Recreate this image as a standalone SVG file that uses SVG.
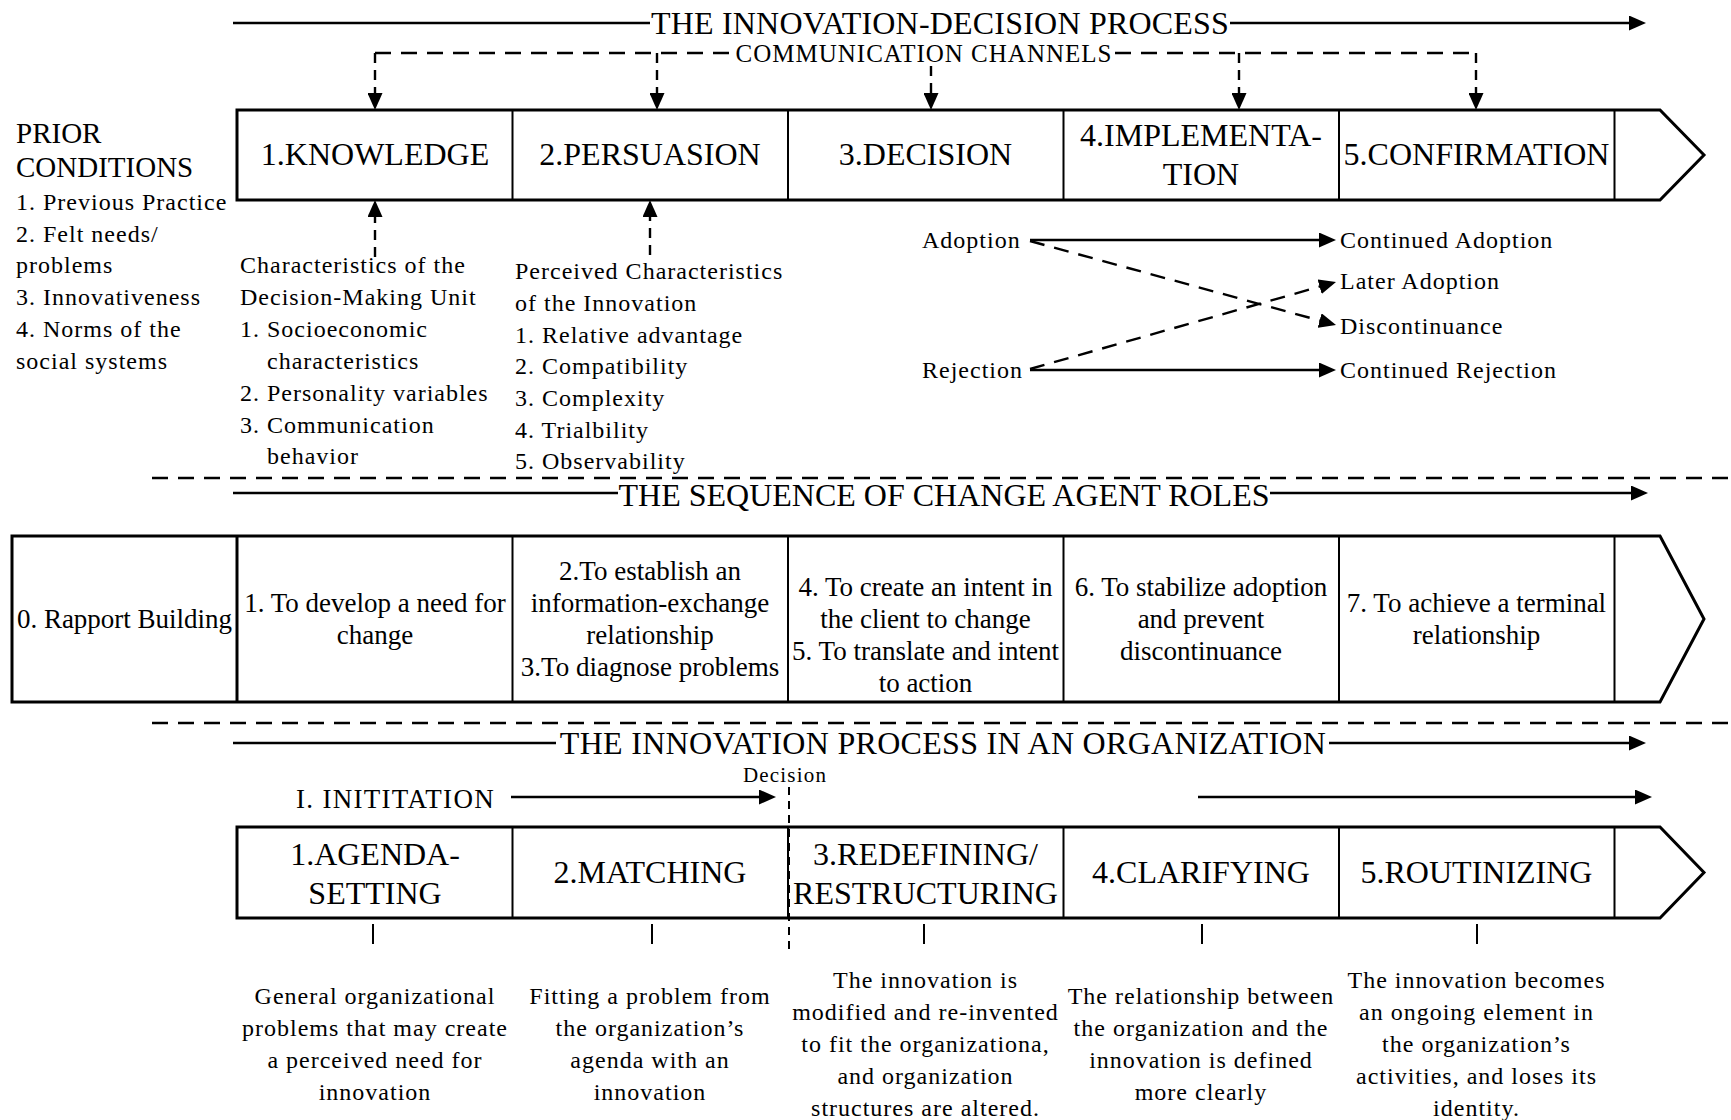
<svg xmlns="http://www.w3.org/2000/svg" width="1731" height="1120" viewBox="0 0 1731 1120">
<style>
text{font-family:"Liberation Serif","Times New Roman",serif;fill:#000}
.h{font-size:32px}
.b{font-size:24px;letter-spacing:1px}
.t{font-size:27px}
.m{text-anchor:middle}
.ln{stroke:#000;stroke-width:2.6;fill:none}
.ds{stroke:#000;stroke-width:2.4;fill:none;stroke-dasharray:16 10}
.dv{stroke:#000;stroke-width:2.4;fill:none;stroke-dasharray:10 7}
.box{fill:none;stroke:#000;stroke-width:3}
.div{stroke:#000;stroke-width:2}
</style>
<defs>
<marker id="ah" viewBox="0 0 17 15" markerWidth="17" markerHeight="15" refX="9" refY="7.5" orient="auto" markerUnits="userSpaceOnUse"><path d="M0,0 L17,7.5 L0,15 z" fill="#000"/></marker>
</defs>
<rect width="1731" height="1120" fill="#fff"/>

<g id="connectors">
<line class="ln" x1="233" y1="23" x2="650" y2="23"/>
<line class="ln" x1="1230" y1="23" x2="1638" y2="23" marker-end="url(#ah)"/>
<path class="ds" d="M375,53 H733 M1115,53 H1476"/>
<line class="dv" x1="375" y1="53" x2="375" y2="102" marker-end="url(#ah)"/>
<line class="dv" x1="657" y1="53" x2="657" y2="102" marker-end="url(#ah)"/>
<line class="dv" x1="931" y1="66" x2="931" y2="102" marker-end="url(#ah)"/>
<line class="dv" x1="1239" y1="53" x2="1239" y2="102" marker-end="url(#ah)"/>
<line class="dv" x1="1476" y1="53" x2="1476" y2="102" marker-end="url(#ah)"/>
<line class="dv" x1="375" y1="257" x2="375" y2="208" marker-end="url(#ah)"/>
<line class="dv" x1="650" y1="255" x2="650" y2="208" marker-end="url(#ah)"/>
<line class="ln" x1="1030" y1="240" x2="1328" y2="240" marker-end="url(#ah)"/>
<line class="ln" x1="1030" y1="370" x2="1328" y2="370" marker-end="url(#ah)"/>
<line class="ds" style="stroke-dasharray:15 10" x1="1030" y1="241" x2="1328.3" y2="322.9" marker-end="url(#ah)"/>
<line class="ds" style="stroke-dasharray:15 10" x1="1030" y1="369" x2="1328.3" y2="284.2" marker-end="url(#ah)"/>
<line class="ds" x1="152" y1="478" x2="1731" y2="478"/>
<line class="ds" x1="152" y1="723" x2="1731" y2="723"/>
<line class="ln" x1="233" y1="493" x2="618" y2="493"/>
<line class="ln" x1="1270" y1="493" x2="1640" y2="493" marker-end="url(#ah)"/>
<line class="ln" x1="233" y1="743" x2="556" y2="743"/>
<line class="ln" x1="1329" y1="743" x2="1638" y2="743" marker-end="url(#ah)"/>
<line class="ln" x1="511" y1="797" x2="768" y2="797" marker-end="url(#ah)"/>
<line class="ln" x1="1198" y1="797" x2="1644" y2="797" marker-end="url(#ah)"/>
<line class="dv" style="stroke-width:2;stroke-dasharray:8 6" x1="789" y1="787" x2="789" y2="952"/>
<path class="ln" style="stroke-width:2" d="M373,924 V944 M652,924 V944 M924,924 V944 M1202,924 V944 M1477,924 V944"/>
</g>

<g id="titles">
<text class="h m" style="letter-spacing:0.2px" x="940" y="34">THE INNOVATION-DECISION PROCESS</text>
<text class="m" style="font-size:25px;letter-spacing:1px" x="924" y="62">COMMUNICATION CHANNELS</text>
<text class="h m" x="944" y="506">THE SEQUENCE OF CHANGE AGENT ROLES</text>
<text class="h m" style="letter-spacing:0.3px" x="943" y="754">THE INNOVATION PROCESS IN AN ORGANIZATION</text>
</g>

<g id="prior-conditions">
<text style="font-size:29px" x="16" y="143">PRIOR</text>
<text style="font-size:29px" x="16" y="177">CONDITIONS</text>
<text class="b" x="16" y="210">1. Previous Practice</text>
<text class="b" x="16" y="242">2. Felt needs/</text>
<text class="b" x="16" y="273">problems</text>
<text class="b" x="16" y="305">3. Innovativeness</text>
<text class="b" x="16" y="337">4. Norms of the</text>
<text class="b" x="16" y="369">social systems</text>
</g>

<g id="stage-row">
<path class="box" d="M237,110 H1660 L1704,155 L1660,200 H237 Z"/>
<path class="div" d="M512.5,110 V200 M788,110 V200 M1063.5,110 V200 M1339,110 V200 M1614.5,110 V200"/>
</g>
<g id="knowledge"><text class="h m" x="375" y="165">1.KNOWLEDGE</text></g>
<g id="persuasion"><text class="h m" x="650" y="165">2.PERSUASION</text></g>
<g id="decision"><text class="h m" x="925.5" y="165">3.DECISION</text></g>
<g id="implementation"><text class="h m" x="1201" y="146">4.IMPLEMENTA-</text><text class="h m" x="1201" y="185">TION</text></g>
<g id="confirmation"><text class="h m" x="1476.5" y="165">5.CONFIRMATION</text></g>

<g id="dmu-characteristics">
<text class="b" x="240" y="273">Characteristics of the</text>
<text class="b" x="240" y="305">Decision-Making Unit</text>
<text class="b" x="240" y="337">1. Socioeconomic</text>
<text class="b" x="267" y="369">characteristics</text>
<text class="b" x="240" y="401">2. Personality variables</text>
<text class="b" x="240" y="433">3. Communication</text>
<text class="b" x="267" y="464">behavior</text>
</g>

<g id="innovation-characteristics">
<text class="b" x="515" y="279">Perceived Characteristics</text>
<text class="b" x="515" y="311">of the Innovation</text>
<text class="b" x="515" y="342.5">1. Relative advantage</text>
<text class="b" x="515" y="374">2. Compatibility</text>
<text class="b" x="515" y="406">3. Complexity</text>
<text class="b" x="515" y="438">4. Trialbility</text>
<text class="b" x="515" y="469">5. Observability</text>
</g>

<g id="adoption"><text class="b" x="922" y="248">Adoption</text></g>
<g id="rejection"><text class="b" x="922" y="378">Rejection</text></g>
<g id="continued-adoption"><text class="b" x="1340" y="248">Continued Adoption</text></g>
<g id="later-adoption"><text class="b" x="1340" y="289">Later Adoption</text></g>
<g id="discontinuance"><text class="b" x="1340" y="334">Discontinuance</text></g>
<g id="continued-rejection"><text class="b" x="1340" y="378">Continued Rejection</text></g>

<g id="roles-row">
<path class="box" d="M12,536 H1660 L1704,619 L1660,702 H12 Z"/>
<path class="div" style="stroke-width:3" d="M237,536 V702"/>
<path class="div" d="M512.5,536 V702 M788,536 V702 M1063.5,536 V702 M1339,536 V702 M1614.5,536 V702"/>
</g>
<g id="role0"><text class="t m" x="124.5" y="628">0. Rapport Building</text></g>
<g id="role1"><text class="t m" x="375" y="612">1. To develop a need for</text><text class="t m" x="375" y="644">change</text></g>
<g id="role2-3"><text class="t m" x="650" y="580">2.To establish an</text><text class="t m" x="650" y="612">information-exchange</text><text class="t m" x="650" y="644">relationship</text><text class="t m" x="650" y="676">3.To diagnose problems</text></g>
<g id="role4-5"><text class="t m" x="925.5" y="596">4. To create an intent in</text><text class="t m" x="925.5" y="628">the client to change</text><text class="t m" x="925.5" y="660">5. To translate and intent</text><text class="t m" x="925.5" y="692">to action</text></g>
<g id="role6"><text class="t m" x="1201" y="596">6. To stabilize adoption</text><text class="t m" x="1201" y="628">and prevent</text><text class="t m" x="1201" y="660">discontinuance</text></g>
<g id="role7"><text class="t m" x="1476.5" y="612">7. To achieve a terminal</text><text class="t m" x="1476.5" y="644">relationship</text></g>

<g id="initiation-label"><text style="font-size:27px;letter-spacing:1.3px" x="296" y="808">I. INITITATION</text></g>
<g id="decision-label"><text class="m" style="font-size:21px;letter-spacing:1.2px" x="785" y="782">Decision</text></g>

<g id="org-row">
<path class="box" d="M237,827 H1660 L1704,872.5 L1660,918 H237 Z"/>
<path class="div" d="M512.5,827 V918 M788,827 V918 M1063.5,827 V918 M1339,827 V918 M1614.5,827 V918"/>
</g>
<g id="agenda-setting"><text class="h m" x="375" y="865">1.AGENDA-</text><text class="h m" x="375" y="904">SETTING</text></g>
<g id="matching"><text class="h m" x="650" y="883">2.MATCHING</text></g>
<g id="redefining"><text class="h m" x="925.5" y="865">3.REDEFINING/</text><text class="h m" x="925.5" y="904">RESTRUCTURING</text></g>
<g id="clarifying"><text class="h m" x="1201" y="883">4.CLARIFYING</text></g>
<g id="routinizing"><text class="h m" x="1476.5" y="883">5.ROUTINIZING</text></g>

<g id="desc-agenda"><text class="b m" x="375" y="1004">General organizational</text><text class="b m" x="375" y="1036">problems that may create</text><text class="b m" x="375" y="1068">a perceived need for</text><text class="b m" x="375" y="1100">innovation</text></g>
<g id="desc-matching"><text class="b m" x="650" y="1004">Fitting a problem from</text><text class="b m" x="650" y="1036">the organization’s</text><text class="b m" x="650" y="1068">agenda with an</text><text class="b m" x="650" y="1100">innovation</text></g>
<g id="desc-redefining"><text class="b m" x="925.5" y="988">The innovation is</text><text class="b m" x="925.5" y="1020">modified and re-invented</text><text class="b m" x="925.5" y="1052">to fit the organizationa,</text><text class="b m" x="925.5" y="1084">and organization</text><text class="b m" x="925.5" y="1116">structures are altered.</text></g>
<g id="desc-clarifying"><text class="b m" x="1201" y="1004">The relationship between</text><text class="b m" x="1201" y="1036">the organization and the</text><text class="b m" x="1201" y="1068">innovation is defined</text><text class="b m" x="1201" y="1100">more clearly</text></g>
<g id="desc-routinizing"><text class="b m" x="1476.5" y="988">The innovation becomes</text><text class="b m" x="1476.5" y="1020">an ongoing element in</text><text class="b m" x="1476.5" y="1052">the organization’s</text><text class="b m" x="1476.5" y="1084">activities, and loses its</text><text class="b m" x="1476.5" y="1116">identity.</text></g>
</svg>
